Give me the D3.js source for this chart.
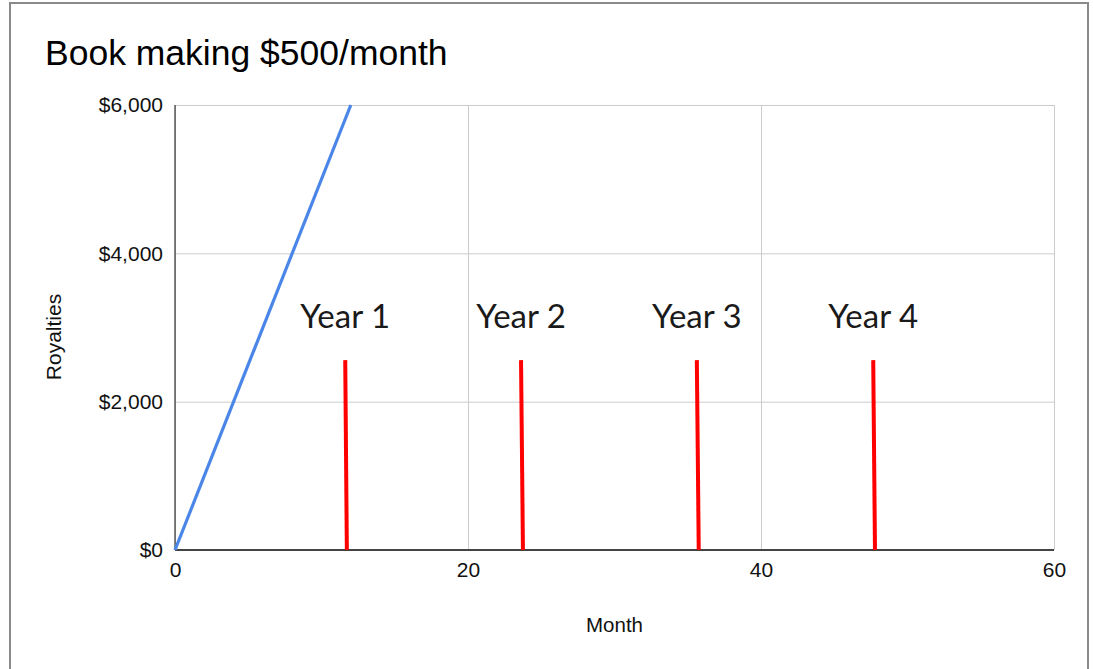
<!DOCTYPE html>
<html>
<head>
<meta charset="utf-8">
<script src="https://cdn.jsdelivr.net/npm/d3@7"></script>
<style>
  html, body { margin: 0; padding: 0; background: #fff; }
  svg { display: block; }
</style>
</head>
<body>
<svg id="chart" width="1093" height="669"></svg>
<script>
// Royalties line: cumulative earnings at $500 per month
const months = [0, 12];
const royalties = [0, 6000];

// Hand-drawn year markers (slightly slanted red strokes)
const yearLabels = ["Year 1", "Year 2", "Year 3", "Year 4"];
const markerTopMonth = [11.62, 23.62, 35.62, 47.66];
const markerBottomMonth = [11.73, 23.75, 35.75, 47.78];
const markerTopValue = 2560;

const xTicks = [0, 20, 40, 60];
const yTicks = [0, 2000, 4000, 6000];

const svg = d3.select("#chart");
const plot = { left: 175, right: 1054, top: 105, bottom: 550 };

const x = d3.scaleLinear().domain([0, 60]).range([plot.left, plot.right]);
const y = d3.scaleLinear().domain([0, 6000]).range([plot.bottom, plot.top]);

const sans = "Liberation Sans, Arial, Helvetica, sans-serif";

// outer frame
svg.append("rect")
  .attr("x", 10).attr("y", 3)
  .attr("width", 1078).attr("height", 700)
  .attr("fill", "#fff").attr("stroke", "#8a8a8a").attr("stroke-width", 2);

// title
svg.append("text")
  .attr("x", 45).attr("y", 65)
  .attr("font-family", sans)
  .attr("font-size", 35.5)
  .attr("fill", "#000")
  .text("Book making $500/month");

const fmt = d => "$" + d3.format(",")(d);

// horizontal gridlines + y labels
const yAxis = d3.axisLeft(y).tickValues(yTicks).tickFormat(fmt)
  .tickSize(-(plot.right - plot.left)).tickPadding(12);
const gy = svg.append("g").attr("transform", `translate(${plot.left},0)`).call(yAxis);
gy.select(".domain").remove();
gy.selectAll(".tick line").attr("stroke", "#cccccc").attr("stroke-width", 1);
gy.selectAll(".tick text")
  .attr("font-family", sans)
  .attr("font-size", 21).attr("fill", "#111");

// vertical gridlines + x labels
const xAxis = d3.axisBottom(x).tickValues(xTicks).tickFormat(d3.format("d"))
  .tickSize(-(plot.bottom - plot.top)).tickPadding(12);
const gx = svg.append("g").attr("transform", `translate(0,${plot.bottom})`).call(xAxis);
gx.select(".domain").remove();
gx.selectAll(".tick line").attr("stroke", "#cccccc").attr("stroke-width", 1);
gx.selectAll(".tick text")
  .attr("font-family", sans)
  .attr("font-size", 21).attr("fill", "#111");

// axis baselines
svg.append("line")
  .attr("x1", x(0)).attr("x2", x(0)).attr("y1", y(6000)).attr("y2", y(0))
  .attr("stroke", "#333").attr("stroke-width", 1.2);
svg.append("line")
  .attr("x1", x(0)).attr("x2", x(60)).attr("y1", y(0)).attr("y2", y(0))
  .attr("stroke", "#444").attr("stroke-width", 2);

// royalties line
const pts = months.map((m, i) => [m, royalties[i]]);
svg.append("path")
  .datum(pts)
  .attr("fill", "none")
  .attr("stroke", "#4a86e8")
  .attr("stroke-width", 3.2)
  .attr("d", d3.line().x(d => x(d[0])).y(d => y(d[1])));

// year markers
const markers = yearLabels.map((label, i) => ({
  label, top: markerTopMonth[i], bottom: markerBottomMonth[i]
}));
svg.selectAll(".marker").data(markers).enter().append("line")
  .attr("class", "marker")
  .attr("x1", d => x(d.top)).attr("y1", y(markerTopValue))
  .attr("x2", d => x(d.bottom)).attr("y2", y(0))
  .attr("stroke", "#ff0000").attr("stroke-width", 4);

svg.selectAll(".year").data(markers).enter().append("text")
  .attr("class", "year")
  .attr("x", d => x(d.top))
  .attr("y", y(markerTopValue) - 32)
  .attr("text-anchor", "middle")
  .attr("font-family", "Lato, sans-serif")
  .attr("font-size", 33)
  .attr("fill", "#1a1a1a")
  .text(d => d.label);

// axis titles
svg.append("text")
  .attr("x", x(30)).attr("y", 632)
  .attr("text-anchor", "middle")
  .attr("font-family", sans)
  .attr("font-size", 20.5).attr("fill", "#111")
  .text("Month");

svg.append("text")
  .attr("transform", `translate(61,337) rotate(-90)`)
  .attr("text-anchor", "middle")
  .attr("font-family", sans)
  .attr("font-size", 21).attr("fill", "#111")
  .text("Royalties");
</script>
</body>
</html>
